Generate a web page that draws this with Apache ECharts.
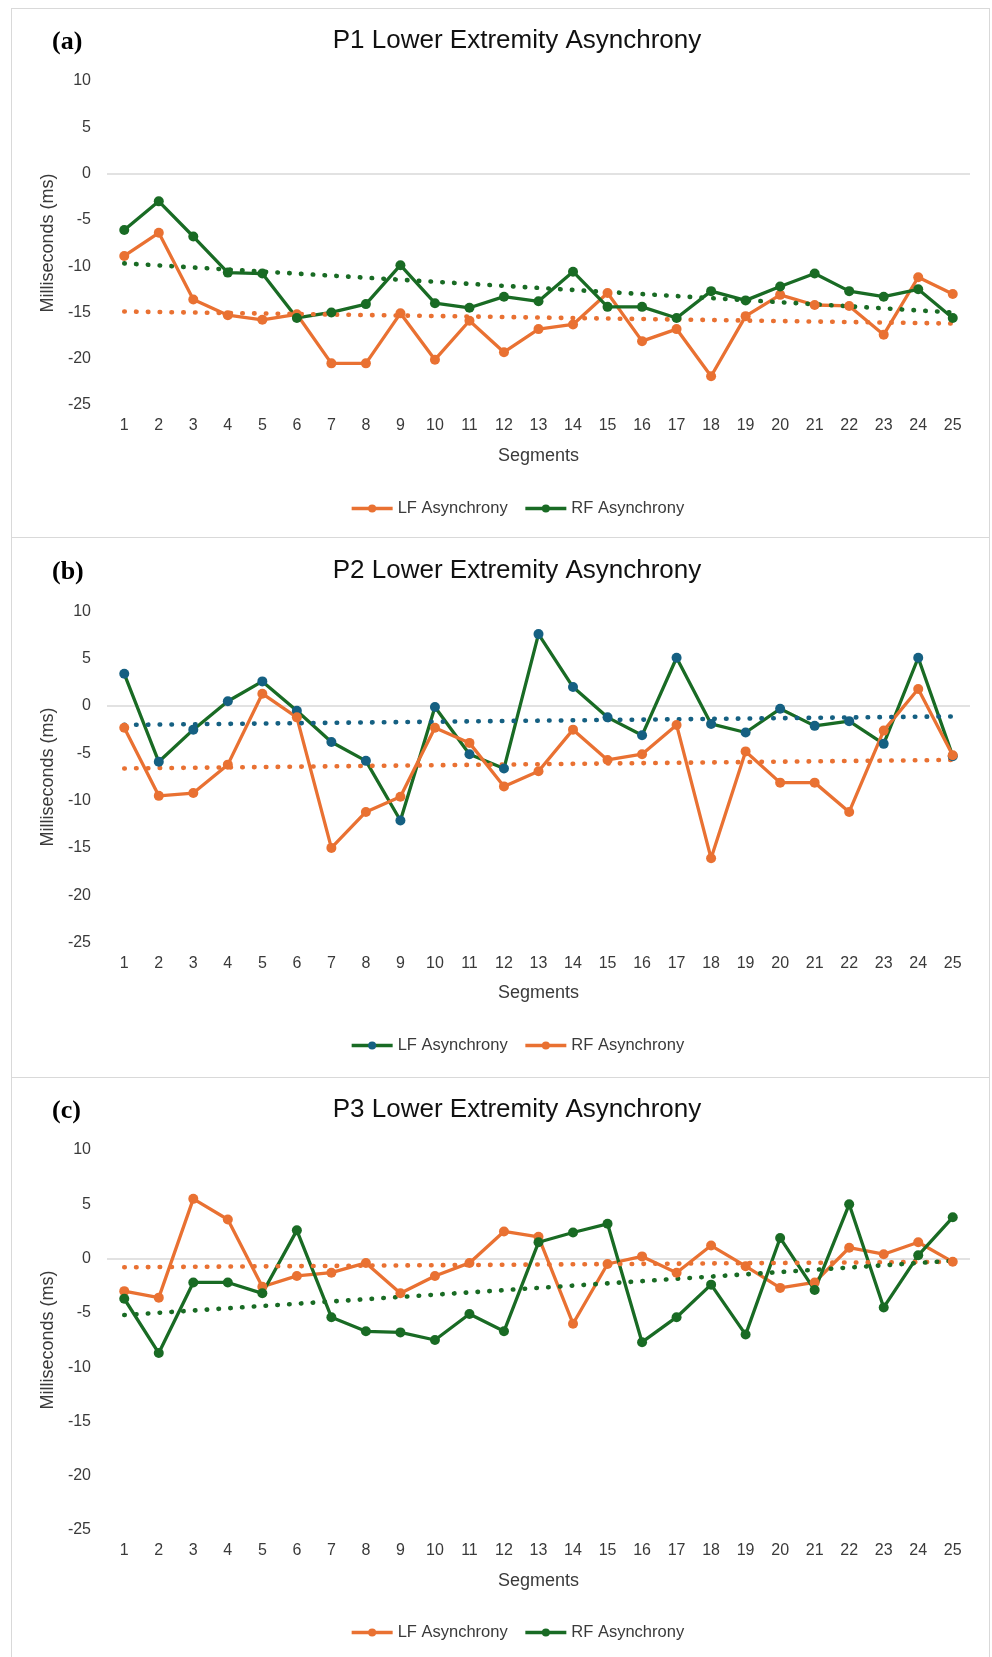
<!DOCTYPE html>
<html>
<head>
<meta charset="utf-8">
<script src="https://cdn.jsdelivr.net/npm/echarts@6/dist/echarts.min.js"></script>
<style>
html,body{margin:0;padding:0;background:#fff;width:992px;height:1657px;overflow:hidden;position:relative;}
.chart{position:absolute;left:11px;width:979px;}
.frame{position:absolute;left:11px;width:979px;box-sizing:border-box;border:1.5px solid #d9d9d9;pointer-events:none;}
</style>
</head>
<body>
<div id="ca" class="chart" style="top:8px;height:529px"></div>
<div id="cb" class="chart" style="top:538px;height:539px"></div>
<div id="cc" class="chart" style="top:1077px;height:580px"></div>
<div class="frame" style="top:8px;height:530px"></div>
<div class="frame" style="top:537px;height:541px"></div>
<div class="frame" style="top:1077px;height:600px"></div>
<script>
// ---- data ----
const categories = ['1','2','3','4','5','6','7','8','9','10','11','12','13','14','15','16','17','18','19','20','21','22','23','24','25'];

const titles = ['P1 Lower Extremity Asynchrony', 'P2 Lower Extremity Asynchrony', 'P3 Lower Extremity Asynchrony'];
const tags = ['(a)', '(b)', '(c)'];
const seriesNames = ['LF Asynchrony', 'RF Asynchrony'];

const p1LF = [-8.9, -6.4, -13.6, -15.3, -15.8, -15.2, -20.5, -20.5, -15.1, -20.1, -15.9, -19.3, -16.8, -16.3, -12.9, -18.1, -16.8, -21.9, -15.4, -13.1, -14.2, -14.3, -17.4, -11.2, -13.0];
const p1RF = [-6.1, -3.0, -6.8, -10.7, -10.8, -15.6, -15.0, -14.1, -9.9, -14.0, -14.5, -13.3, -13.8, -10.6, -14.4, -14.4, -15.6, -12.7, -13.7, -12.2, -10.8, -12.7, -13.3, -12.5, -15.6];
const p1LFTrend = [-14.9, -16.2];
const p1RFTrend = [-9.7, -15.0];

const p2LF = [3.4, -5.9, -2.5, 0.5, 2.6, -0.5, -3.8, -5.8, -12.1, -0.1, -5.1, -6.6, 7.6, 2.0, -1.2, -3.1, 5.1, -1.9, -2.8, -0.3, -2.1, -1.6, -4.0, 5.1, -5.3];
const p2RF = [-2.3, -9.5, -9.2, -6.2, 1.3, -1.2, -15.0, -11.2, -9.6, -2.3, -3.9, -8.5, -6.9, -2.5, -5.7, -5.1, -2.0, -16.1, -4.8, -8.1, -8.1, -11.2, -2.6, 1.8, -5.2];
const p2LFTrend = [-2.0, -1.1];
const p2RFTrend = [-6.6, -5.7];

const p3LF = [-3.0, -3.6, 5.5, 3.6, -2.6, -1.6, -1.3, -0.4, -3.2, -1.6, -0.4, 2.5, 2.0, -6.0, -0.5, 0.2, -1.3, 1.2, -0.7, -2.7, -2.2, 1.0, 0.4, 1.5, -0.3];
const p3RF = [-3.7, -8.7, -2.2, -2.2, -3.2, 2.6, -5.4, -6.7, -6.8, -7.5, -5.1, -6.7, 1.5, 2.4, 3.2, -7.7, -5.4, -2.4, -7.0, 1.9, -2.9, 5.0, -4.5, 0.3, 3.8];
const p3LFTrend = [-0.8, -0.3];
const p3RFTrend = [-5.2, -0.2];

const yMin = -25, yMax = 10, yStep = 5;

// ---- styles ----
const ORANGE = '#E97132', GREEN = '#196B24', BLUE = '#156082';
const SANS = '"Liberation Sans", Arial, sans-serif';
const TXT = '#3a3a3a';

function dataSeries(name, values, lineColor, markerColor) {
  return {
    name: name, type: 'line', data: values,
    symbol: 'circle', symbolSize: 10, showSymbol: true,
    lineStyle: { color: lineColor, width: 3.3 },
    itemStyle: { color: markerColor },
    emphasis: { disabled: true }, silent: true
  };
}
function trendSeries(vals, color) {
  return {
    type: 'line', data: [[categories[0], vals[0]], [categories[categories.length - 1], vals[1]]],
    showSymbol: false, symbol: 'none', silent: true,
    lineStyle: { color: color, width: 4.6, type: [0.5, 11.3], cap: 'round' },
    emphasis: { disabled: true }
  };
}

function makeOption(p) {
  return {
    animation: false,
    graphic: [
      { type: 'text', x: 506, y: 33, silent: true,
        style: { text: p.title, fill: '#111', font: '26px ' + SANS, align: 'center', verticalAlign: 'middle' } },
      { type: 'text', x: 41, y: 34, silent: true,
        style: { text: p.tag, fill: '#000', font: 'bold 26px "Liberation Serif", "DejaVu Serif", serif', align: 'left', verticalAlign: 'middle' } }
    ],
    grid: { left: 96, right: 20, top: p.gridTop, bottom: p.gridBottom },
    legend: {
      data: seriesNames, left: 334, top: p.legendTop, itemWidth: 41, itemHeight: 10, itemGap: 16,
      lineStyle: { width: 3.3 },
      textStyle: { fontFamily: SANS, fontSize: 16.5, color: TXT }, selectedMode: false
    },
    xAxis: {
      type: 'category', data: categories, boundaryGap: true,
      axisLine: { show: false }, axisTick: { show: false },
      axisLabel: { margin: 13, fontFamily: SANS, fontSize: 16, color: TXT, interval: 0 },
      name: 'Segments', nameLocation: 'middle', nameGap: 42,
      nameTextStyle: { fontFamily: SANS, fontSize: 18, color: TXT }
    },
    yAxis: {
      type: 'value', min: yMin, max: yMax, interval: yStep,
      axisLine: { show: false }, axisTick: { show: false },
      splitLine: { show: true, lineStyle: { width: 1.5, color: ['rgba(0,0,0,0)','rgba(0,0,0,0)','rgba(0,0,0,0)','rgba(0,0,0,0)','rgba(0,0,0,0)','#d9d9d9','rgba(0,0,0,0)','rgba(0,0,0,0)'] } },
      axisLabel: { margin: 16, fontFamily: SANS, fontSize: 16, color: TXT },
      name: 'Milliseconds (ms)', nameLocation: 'middle', nameGap: 47,
      nameTextStyle: { fontFamily: SANS, fontSize: 18, color: TXT }
    },
    series: p.series
  };
}

const panels = [
  { id: 'ca', title: titles[0], tag: tags[0], gridTop: 73, gridBottom: 132, legendTop: 487,
    series: [
      dataSeries(seriesNames[0], p1LF, ORANGE, ORANGE),
      dataSeries(seriesNames[1], p1RF, GREEN, GREEN),
      trendSeries(p1LFTrend, ORANGE),
      trendSeries(p1RFTrend, GREEN)
    ] },
  { id: 'cb', title: titles[1], tag: tags[1], gridTop: 73.4, gridBottom: 134.5, legendTop: 494,
    series: [
      dataSeries(seriesNames[0], p2LF, GREEN, BLUE),
      dataSeries(seriesNames[1], p2RF, ORANGE, ORANGE),
      trendSeries(p2LFTrend, BLUE),
      trendSeries(p2RFTrend, ORANGE)
    ] },
  { id: 'cc', title: titles[2], tag: tags[2], gridTop: 73, gridBottom: 127, legendTop: 542,
    series: [
      dataSeries(seriesNames[0], p3LF, ORANGE, ORANGE),
      dataSeries(seriesNames[1], p3RF, GREEN, GREEN),
      trendSeries(p3LFTrend, ORANGE),
      trendSeries(p3RFTrend, GREEN)
    ] }
];

panels.forEach(function (p) {
  const chart = echarts.init(document.getElementById(p.id), null, { renderer: 'canvas' });
  chart.setOption(makeOption(p));
});
</script>
</body>
</html>
